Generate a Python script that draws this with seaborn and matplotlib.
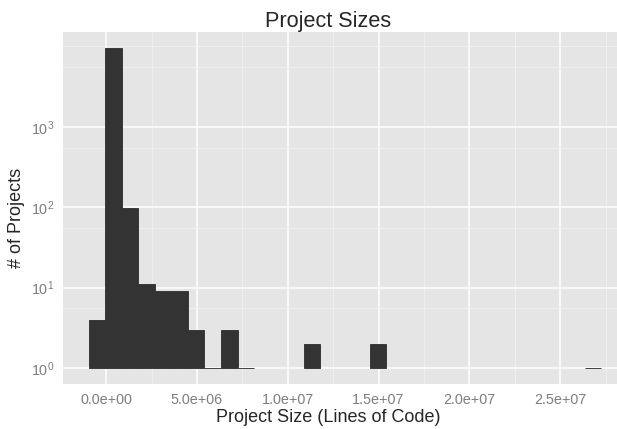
import numpy as np
import pandas as pd
import matplotlib
matplotlib.use("Agg")
import matplotlib.pyplot as plt
import seaborn as sns

# histogram bins (31 bins of equal width)
first_edge = -0.964e6
bin_width = 0.911e6
counts = [4, 9550, 98, 11, 9, 9, 3, 1, 3, 1, 0, 0, 0, 2, 0, 0, 0, 2,
          0, 0, 0, 0, 0, 0, 0, 0, 0, 0, 0, 0, 1]

x_ticks = [0, 5e6, 1e7, 1.5e7, 2e7, 2.5e7]
x_tick_labels = ["0.0e+00", "5.0e+06", "1.0e+07", "1.5e+07", "2.0e+07", "2.5e+07"]
x_minor = [2.5e6, 7.5e6, 1.25e7, 1.75e7, 2.25e7, 2.75e7]
y_ticks = [1, 10, 100, 1000]
y_minor = [5.5, 55, 550, 5500, 10000]

edges = first_edge + bin_width * np.arange(len(counts) + 1)
df = pd.DataFrame({"center": (edges[:-1] + edges[1:]) / 2, "count": counts})

sns.set_style("white")
plt.rcParams["font.family"] = ["Liberation Sans", "DejaVu Sans"]
plt.rcParams["mathtext.default"] = "regular"

dpi = 108
fig = plt.figure(figsize=(617 / dpi, 429 / dpi), dpi=dpi)

# ggplot style 5% expansion of the data range
x_lo, x_hi = edges[0], edges[-1]
x_pad = 0.05 * (x_hi - x_lo)
xlim = (x_lo - x_pad, x_hi + x_pad)
px_per_unit = 18.16 / 1e6
ax_w = (xlim[1] - xlim[0]) * px_per_unit
ax = fig.add_axes([63 / 617, 45 / 429, ax_w / 617, 352 / 429])
ax.set_facecolor("#E5E5E5")

sns.histplot(data=df, x="center", weights="count", bins=list(edges), ax=ax,
             color="#333333", alpha=1, edgecolor="#333333", linewidth=0.6)
ax.set_yscale("log")

# ggplot draws log-scale bars up from 1, not from the bottom edge
for p in ax.patches:
    h = p.get_height()
    if h <= 0:
        p.set_visible(False)
    else:
        p.set_y(1)
        p.set_height(h - 1)

y_hi = np.log10(max(counts))
y_pad = 0.05 * y_hi
ax.set_ylim(10 ** -y_pad, 10 ** (y_hi + y_pad))
ax.set_xlim(*xlim)

ax.set_xticks(x_ticks)
ax.set_xticklabels(x_tick_labels)
ax.set_xticks(x_minor, minor=True)
ax.set_yticks(y_ticks)
ax.set_yticks(y_minor, minor=True)
ax.yaxis.set_minor_formatter(matplotlib.ticker.NullFormatter())

ax.set_axisbelow(True)
ax.grid(which="major", color="white", linewidth=1.0)
ax.grid(which="minor", color="#F2F2F2", linewidth=0.5)
ax.tick_params(which="major", length=4, width=0.6, color="#7F7F7F",
               labelcolor="#7F7F7F", labelsize=9.6, pad=2)
ax.tick_params(which="minor", length=0)
for s in ax.spines.values():
    s.set_visible(False)

cx = (328 - 63) / ax_w
ax.set_title("Project Sizes", fontsize=14.4, x=cx, y=1 + 5.5 / 352, pad=0)
ax.set_xlabel("Project Size (Lines of Code)", fontsize=12)
ax.xaxis.set_label_coords(cx, -0.072)
ax.set_ylabel("# of Projects", fontsize=12)
ax.yaxis.set_label_coords((25 - 63) / ax_w, (384 - 218) / 352)

fig.savefig("out.png", dpi=dpi)
